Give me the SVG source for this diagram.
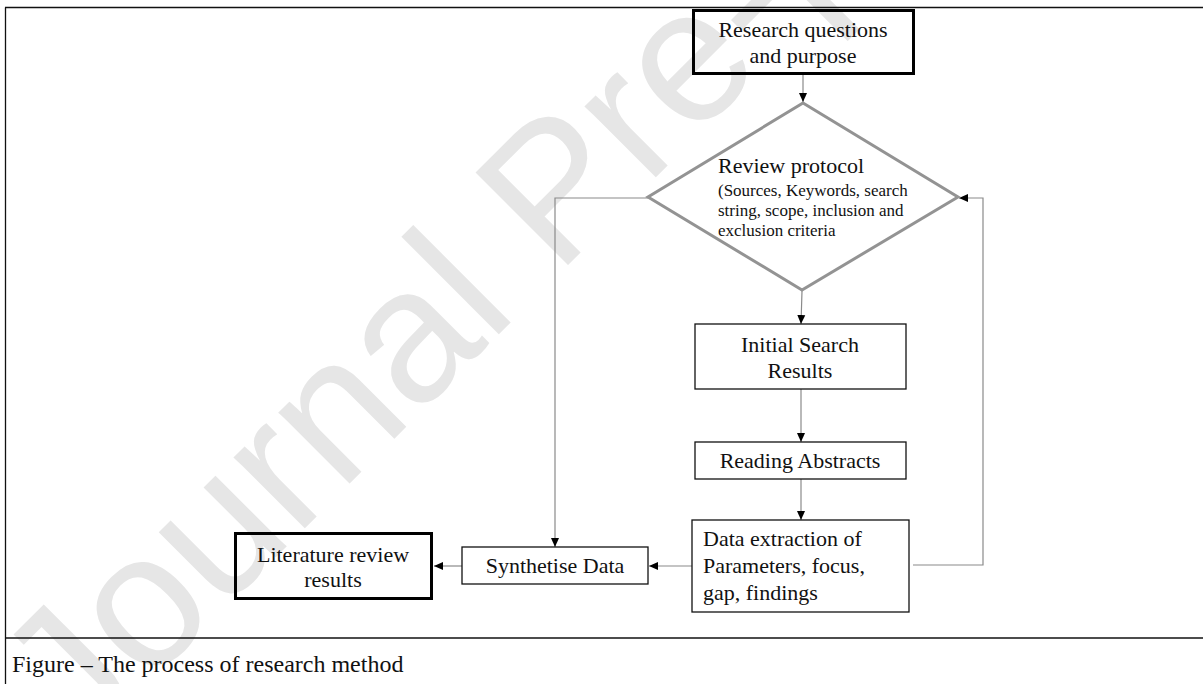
<svg xmlns="http://www.w3.org/2000/svg" width="1203" height="684" viewBox="0 0 1203 684">
  <style>
    .t { font-family: "Liberation Serif", "Times New Roman", serif; fill: #111; }
    .c { text-anchor: middle; font-size: 22px; }
    .box { fill: none; stroke: #111; stroke-width: 1.3; }
    .thick { fill: none; stroke: #000; stroke-width: 3; }
    .conn { fill: none; stroke: #8a8a8a; stroke-width: 1.2; }
    .frame { fill: none; stroke: #111; stroke-width: 1.3; }
  </style>
  <defs>
    <marker id="arr" markerUnits="userSpaceOnUse" markerWidth="10" markerHeight="10" refX="9" refY="5" orient="auto">
      <path d="M0,1 L9,5 L0,9 Z" fill="#000"/>
    </marker>
  </defs>
  <rect width="1203" height="684" fill="#fff"/>
  <text x="0" y="0" transform="translate(79 754) rotate(-45)" font-family="Liberation Sans, Arial, sans-serif" font-size="190" fill="#e6e6e6">Journal Pre-proof</text>

  <g id="frame">
    <line class="frame" x1="5" y1="7.5" x2="1203" y2="7.5"/>
    <line class="frame" x1="5.5" y1="7.5" x2="5.5" y2="684"/>
    <line class="frame" x1="5" y1="638" x2="1203" y2="638"/>
  </g>

  <g id="connectors">
    <line class="conn" x1="803" y1="74" x2="803" y2="102" marker-end="url(#arr)"/>
    <line class="conn" x1="802" y1="291" x2="801" y2="324" marker-end="url(#arr)"/>
    <line class="conn" x1="801" y1="389" x2="801" y2="442" marker-end="url(#arr)"/>
    <line class="conn" x1="801" y1="479" x2="801" y2="520" marker-end="url(#arr)"/>
    <polyline class="conn" points="913,565 983,565 983,198 959,198" marker-end="url(#arr)"/>
    <polyline class="conn" points="648,198 555,198 555,547" marker-end="url(#arr)"/>
    <line class="conn" x1="692" y1="566" x2="649" y2="566" marker-end="url(#arr)"/>
    <line class="conn" x1="462" y1="566" x2="434" y2="566" marker-end="url(#arr)"/>
  </g>

  <g id="research-questions">
    <rect class="thick" x="693.5" y="10.5" width="220" height="63"/>
    <text class="t c" x="803" y="37">Research  questions</text>
    <text class="t c" x="803" y="63">and purpose</text>
  </g>

  <g id="review-protocol">
    <polygon points="803,103 958,197 802,290 648,197" fill="none" stroke="#939393" stroke-width="3"/>
    <text class="t" x="718" y="173" font-size="22">Review  protocol</text>
    <text class="t" x="718" y="196" font-size="17">(Sources, Keywords, search</text>
    <text class="t" x="718" y="216" font-size="17">string,  scope, inclusion and</text>
    <text class="t" x="718" y="236" font-size="17">exclusion criteria</text>
  </g>

  <g id="initial-search">
    <rect class="box" x="695" y="324" width="211" height="65"/>
    <text class="t c" x="800" y="352">Initial  Search</text>
    <text class="t c" x="800" y="378">Results</text>
  </g>

  <g id="reading-abstracts">
    <rect class="box" x="695" y="442" width="211" height="37"/>
    <text class="t c" x="800" y="468">Reading  Abstracts</text>
  </g>

  <g id="data-extraction">
    <rect class="box" x="692" y="520" width="217" height="92"/>
    <text class="t" x="703" y="546" font-size="22">Data extraction  of</text>
    <text class="t" x="703" y="573" font-size="22">Parameters,  focus,</text>
    <text class="t" x="703" y="600" font-size="22">gap,  findings</text>
  </g>

  <g id="synthetise-data">
    <rect class="box" x="462" y="547" width="186" height="37"/>
    <text class="t c" x="555" y="573">Synthetise  Data</text>
  </g>

  <g id="literature-review">
    <rect class="thick" x="235.5" y="533.5" width="196" height="65"/>
    <text class="t c" x="333" y="562">Literature review</text>
    <text class="t c" x="333" y="587">results</text>
  </g>

  <g id="caption">
    <text class="t" x="12" y="672" font-size="24">Figure – The process of research method</text>
  </g>
</svg>
